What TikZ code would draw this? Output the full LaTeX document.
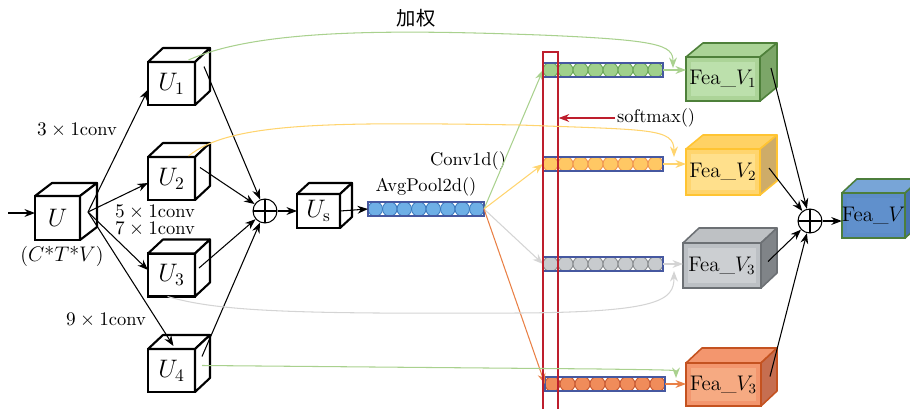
\documentclass[tikz,border=0pt]{standalone}
\usepackage{fontspec}
\newfontfamily\cjk{Noto Sans CJK SC}
\usetikzlibrary{arrows.meta,calc}

\definecolor{gline}{RGB}{169,209,142}
\definecolor{yline}{RGB}{255,212,110}
\definecolor{hline}{RGB}{212,212,212}
\definecolor{oline}{RGB}{233,128,70}
\definecolor{barc}{RGB}{70,88,160}
\definecolor{colred}{RGB}{190,30,45}
% box colours: front, inner, top, side, border
\definecolor{gfront}{RGB}{172,212,152}\definecolor{ginner}{RGB}{188,224,172}\definecolor{gtop}{RGB}{170,211,150}\definecolor{gside}{RGB}{124,166,104}\definecolor{gborder}{RGB}{78,128,58}
\definecolor{yfront}{RGB}{255,213,110}\definecolor{yinner}{RGB}{255,224,140}\definecolor{ytop}{RGB}{255,210,100}\definecolor{yside}{RGB}{206,172,104}\definecolor{yborder}{RGB}{255,196,50}
\definecolor{hfront}{RGB}{188,192,196}\definecolor{hinner}{RGB}{204,207,210}\definecolor{htop}{RGB}{190,193,196}\definecolor{hside}{RGB}{128,132,136}\definecolor{hborder}{RGB}{108,112,116}
\definecolor{ofront}{RGB}{243,150,110}\definecolor{oinner}{RGB}{246,170,130}\definecolor{otop}{RGB}{243,150,110}\definecolor{oside}{RGB}{198,110,80}\definecolor{oborder}{RGB}{196,82,32}
\definecolor{bfront}{RGB}{92,140,200}\definecolor{binner}{RGB}{96,144,204}\definecolor{btop}{RGB}{120,165,215}\definecolor{bside}{RGB}{70,114,176}\definecolor{bborder}{RGB}{76,126,60}
% circle colours: fill, draw
\definecolor{cbfill}{RGB}{110,175,230}\definecolor{cbdraw}{RGB}{60,122,190}
\definecolor{cgfill}{RGB}{160,208,140}\definecolor{cgdraw}{RGB}{108,168,90}
\definecolor{cyfill}{RGB}{255,200,100}\definecolor{cydraw}{RGB}{240,150,80}
\definecolor{chfill}{RGB}{200,203,206}\definecolor{chdraw}{RGB}{138,141,144}
\definecolor{cofill}{RGB}{240,140,90}\definecolor{codraw}{RGB}{200,90,50}

\newcommand{\feastyle}[2]{\tikzset{
  #1/.style={draw=#2border, fill=#2front, line width=0.9pt, inner sep=0pt, outer sep=0pt,
    font=\fontsize{12}{14}\selectfont,
    path picture={\fill [#2inner] ($(path picture bounding box.south west)+(5,-5)$) rectangle ($(path picture bounding box.north east)+(-5,5)$);}},
  #1 top/.style={draw=#2border, fill=#2top, line width=0.9pt, line join=round},
  #1 side/.style={draw=#2border, fill=#2side, line width=0.9pt, line join=round}}}
\feastyle{fgreen}{g}
\feastyle{fyellow}{y}
\feastyle{fgray}{h}
\feastyle{forange}{o}
\feastyle{fblue}{b}

% style, name, position, width, height, depth, text
\newcommand{\drawcube}[7]{%
  \node [#1, minimum width=#4*0.02cm, minimum height=#5*0.02cm] (#2) at (#3) {#7};
  \draw [#1 top] (#2.north west) -- ++(#6) -- ($(#2.north east)+(#6)$) -- (#2.north east) -- cycle;
  \draw [#1 side] (#2.north east) -- ($(#2.north east)+(#6)$) -- ($(#2.south east)+(#6)$) -- (#2.south east) -- cycle;
}
% name, position, width, circle fill, circle draw
\newcommand{\drawbar}[5]{%
  \node [bar, minimum width=#3*0.02cm] (#1) at (#2) {};
  \foreach \k in {0,...,7}
    \filldraw [fill=#4, draw=#5, line width=0.5pt] ($(#1.west)+({(\k+0.5)*#3/8},0)$) circle [radius=#3/16*0.02cm];
  \draw [bar] (#1.south west) rectangle (#1.north east);
}

\begin{document}
\begin{tikzpicture}[x=0.02cm, y=-0.02cm, >={Stealth[length=6pt,width=4.5pt]},
    cube/.style={draw, line width=1.2pt, fill=white, inner sep=0pt, outer sep=0pt, font=\fontsize{14}{16}\selectfont},
    cube top/.style={draw, line width=1.2pt, fill=white, line join=round},
    cube side/.style={cube top},
    bar/.style={draw=barc, line width=0.7pt, minimum height=14*0.02cm, inner sep=0pt, outer sep=0pt},
    lbl/.style={font=\fontsize{10.5}{12}\selectfont, inner sep=1pt},
    plus/.style={draw, circle, minimum size=24*0.02cm, inner sep=0pt, line width=0.6pt,
      path picture={\draw [line width=0.6pt] (path picture bounding box.north) -- (path picture bounding box.south)
        (path picture bounding box.west) -- (path picture bounding box.east);}},
    arr/.style={->, line width=0.6pt}]
    \clip (0,0) rectangle (910,409);

    % cubes on the left
    \drawcube{cube}{u}{57.5,218}{45}{44}{17,-13}{$U$}
    \drawcube{cube}{u1}{171.5,83.5}{47}{43}{15,-14}{$U_1$}
    \drawcube{cube}{u2}{171.5,178.5}{47}{43}{15,-14}{$U_2$}
    \drawcube{cube}{u3}{171.5,275}{47}{43}{15,-14}{$U_3$}
    \drawcube{cube}{u4}{171.5,370.5}{47}{43}{15,-14}{$U_4$}
    \node [plus] (plusa) at (265,211) {};
    \drawcube{cube}{us}{318.5,211}{43}{34}{12,-11}{$U_{\mathrm{s}}$}

    \node [lbl, font=\fontsize{11.5}{13}\selectfont] (shape) at (62,256) {($C$*$T$*$V$)};
    \node [lbl] (k3) at (77,130) {$3\times 1$conv};
    \node [lbl] (k5) at (155,212) {$5\times 1$conv};
    \node [lbl] (k7) at (155,229) {$7\times 1$conv};
    \node [lbl] (k9) at (106,320) {$9\times 1$conv};

    \coordinate (in) at (8,213);
    \coordinate (uo) at (88,212);
    \draw [arr] (in) -- ($(u.west)+(0,-5)$);
    \draw [arr] (uo) -- ($(u1.west)+(0,6)$);
    \draw [arr] (uo) -- ($(u2.west)+(0,4.5)$);
    \draw [arr] (uo) -- ($(u3.west)+(0,-5)$);
    \draw [arr] (uo) -- ($(u4.north)+(2,-3)$);
    \draw [arr] ($(u1.east)+(9,-17)$) -- (plusa);
    \draw [arr] ($(u2.east)+(5,-11)$) -- (plusa);
    \draw [arr] ($(u3.east)+(4,-7)$) -- (plusa);
    \draw [arr] ($(u4.east)+(7,-14)$) -- (plusa);
    \draw [arr] (plusa) -- (us.west);

    % pooled vector and the four branches
    \drawbar{avg}{426,209}{116}{cbfill}{cbdraw}
    \node [lbl, anchor=south] (avglbl) at ($(avg.north)+(0,-4)$) {AvgPool2d()};
    \node [lbl] (convlbl) at (468,161) {Conv1d()};
    \draw [arr] (us.east) -- (avg.west);

    \drawbar{gb}{603,70}{120}{cgfill}{cgdraw}
    \drawbar{yb}{603,164}{120}{cyfill}{cydraw}
    \drawbar{hb}{603,264}{120}{chfill}{chdraw}
    \drawbar{ob}{605,384}{120}{cofill}{codraw}

    \draw [arr, gline] (avg.east) -- (gb.west);
    \draw [arr, yline] (avg.east) -- (yb.west);
    \draw [arr, hline] (avg.east) -- (hb.west);
    \draw [arr, oline] (avg.east) -- (ob.west);

    % softmax column
    \node [draw=colred, line width=0.8pt, minimum width=15*0.02cm, minimum height=380*0.02cm, inner sep=0pt] (col) at (550.5,242) {};
    \node [lbl, anchor=west] (smx) at (615,118) {softmax()};
    \draw [arr, colred] (smx.west) -- (smx.west -| col.east);

    % weighted features
    \drawcube{fgreen}{fv1}{723,79}{74}{44}{17,-14}{Fea\_$V_1$}
    \drawcube{fyellow}{fv2}{723,172}{74}{46}{17,-14}{Fea\_$V_2$}
    \drawcube{fgray}{fv3}{722,265.5}{78}{45}{16,-15}{Fea\_$V_3$}
    \drawcube{forange}{fv4}{723.5,384.5}{75}{43}{16,-15}{Fea\_$V_3$}
    \node [plus] (plusb) at (810,221) {};
    \drawcube{fblue}{fv}{873.5,215.5}{61}{45}{15,-14}{Fea\_$V$}

    \draw [arr, gline] (gb.east) -- (gb.east -| fv1.west);
    \draw [arr, yline] (yb.east) -- (yb.east -| fv2.west);
    \draw [arr, hline] (hb.east) -- (hb.east -| fv3.west);
    \draw [arr, oline] (ob.east) -- (ob.east -| fv4.west);

    \draw [arr, gline] ($(u1.north)+(17,-2)$) .. controls (260,28) and (400,30) .. (540,35)
      .. controls (660,40) and (673,45) .. (673,68);
    \node [font=\cjk\fontsize{11}{13}\selectfont] (wt) at (416,18) {加权};
    \draw [arr, yline] ($(u2.north)+(17,-1)$) .. controls (230,122) and (330,122) .. (520,125)
      .. controls (650,130) and (674,128) .. (674,157);
    \draw [arr, hline] ($(u3.south)+(-4,0)$) .. controls (220,312) and (300,314) .. (520,313)
      .. controls (660,312) and (674,300) .. (674,271);
    \draw [arr, gline] ($(u4.east)+(7,-5)$) -- (600,369) .. controls (670,370) and (676,370) .. (676,378);

    \draw [arr] ($(fv1.east)+(11,-11)$) -- (plusb);
    \draw [arr] ($(fv2.east)+(9,-4)$) -- (plusb);
    \draw [arr] ($(fv3.east)+(7,-4)$) -- (plusb);
    \draw [arr] ($(fv4.east)+(9,-8)$) -- (plusb);
    \draw [arr] (plusb) -- (plusb -| fv.west);
\end{tikzpicture}
\end{document}
